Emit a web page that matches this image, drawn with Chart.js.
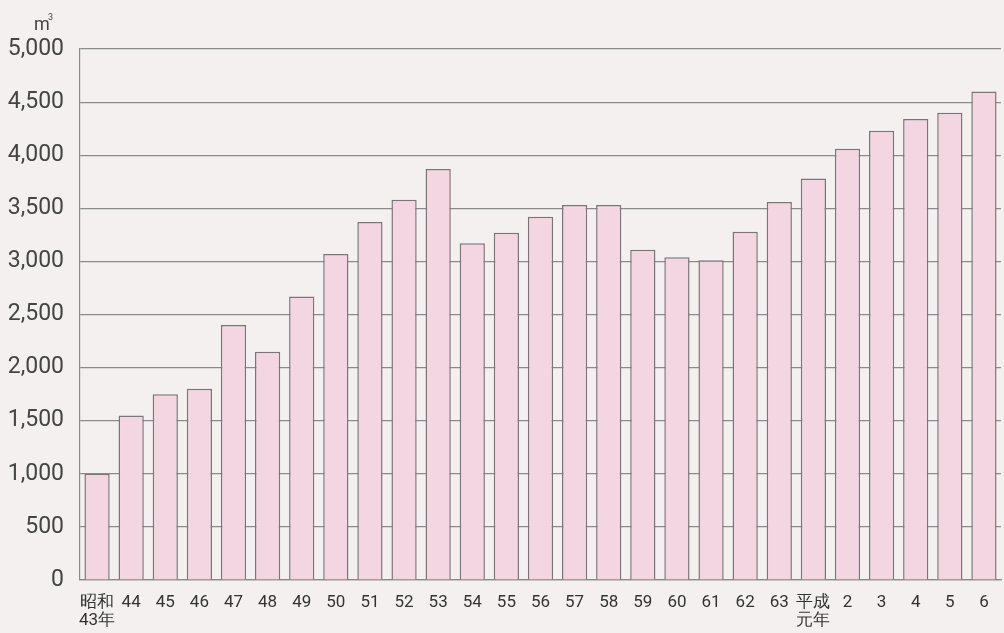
<!DOCTYPE html>
<html>
<head>
<meta charset="utf-8">
<script src="https://cdn.jsdelivr.net/npm/chart.js@4"></script>
<style>
  html, body { margin:0; padding:0; background:#f5f0f0; }
  #wrap { width:1004px; height:633px; position:relative; }
</style>
</head>
<body>
<div id="wrap"><canvas id="chart" width="1004" height="633"></canvas></div>
<script>
// years (昭和43年 .. 平成6年)
const years = [['昭和','43年'],'44','45','46','47','48','49','50','51','52','53','54','55','56','57','58','59','60','61','62','63',['平成','元年'],'2','3','4','5','6'];
// volume, m3
const volumes = [1000,1550,1750,1800,2400,2150,2670,3070,3370,3580,3870,3170,3270,3420,3530,3530,3110,3040,3010,3280,3560,3780,4060,4230,4340,4400,4600];
const yTicks = [0,500,1000,1500,2000,2500,3000,3500,4000,4500,5000];

const FONT = '"Roboto", sans-serif';

// unit label in the top-left corner
const unitLabel = {
  id:'unitLabel',
  afterDraw(chart){
    const c = chart.ctx;
    c.save();
    c.fillStyle = '#444';
    c.font = '18px ' + FONT;
    c.textBaseline = 'alphabetic';
    c.fillText('m', 34, 30);
    c.font = '9px ' + FONT;
    c.fillText('3', 48, 20);
    c.restore();
  }
};

new Chart(document.getElementById('chart'), {
  type:'bar',
  data:{
    labels: years,
    datasets:[{
      data: volumes,
      backgroundColor:'#f3d6e1',
      borderColor:'#7d7478',
      borderWidth:1.5,
      barPercentage:0.74,
      categoryPercentage:1.0
    }]
  },
  options:{
    responsive:false,
    animation:false,
    layout:{ padding:{ top:49, right:3, left:0, bottom:0 } },
    plugins:{ legend:{display:false}, tooltip:{enabled:false} },
    scales:{
      x:{
        afterFit(scale){ scale.height = 53; },
        grid:{ display:false, drawTicks:false },
        border:{ display:true, color:'#8a8a8a', width:1.2 },
        ticks:{ color:'#333', font:{ family:FONT, size:17, lineHeight:1.05 }, padding:14, maxRotation:0, autoSkip:false }
      },
      y:{
        min:0, max:5000,
        afterBuildTicks(scale){ scale.ticks = yTicks.map(v => ({value:v})); },
        afterFit(scale){ scale.width = 80; },
        grid:{ color:'#8a8a8a', lineWidth:1.2, drawTicks:false },
        border:{ display:true, color:'#8a8a8a', width:1.2 },
        ticks:{
          color:'#444', font:{ family:FONT, size:23 }, padding:16,
          callback:v => v.toLocaleString('en-US')
        }
      }
    }
  },
  plugins:[unitLabel]
});
</script>
</body>
</html>
